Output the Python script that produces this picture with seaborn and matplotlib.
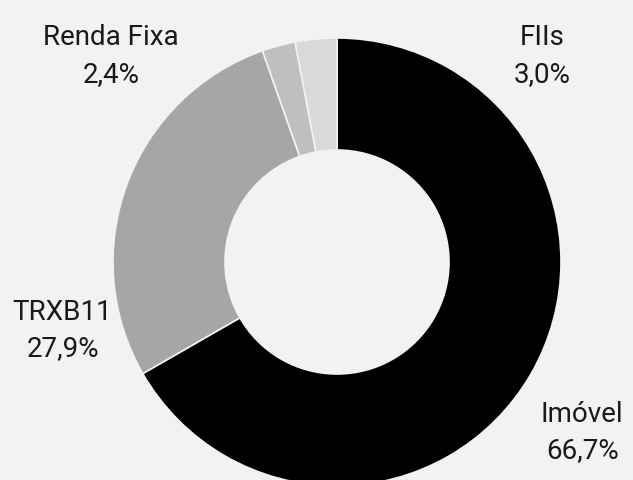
import matplotlib
matplotlib.use("Agg")
import matplotlib.pyplot as plt
import seaborn as sns

# ==============================
# Dados
# ==============================
categorias = ["Imóvel", "TRXB11", "Renda Fixa", "FIIs"]
valores = [66.7, 27.9, 2.4, 3.0]
rotulos = ["66,7%", "27,9%", "2,4%", "3,0%"]
cores = ["#000000", "#a6a6a6", "#bfbfbf", "#d9d9d9"]

# posição dos rótulos (em unidades do raio)
pos_rotulos = [(1.095, -0.76), (-1.225, -0.305), (-1.01, 0.92), (0.915, 0.92)]

# ==============================
# Gráfico
# ==============================
sns.set_theme(style="white")
plt.rcParams["font.family"] = ["Roboto", "DejaVu Sans"]

fig = plt.figure(figsize=(6.33, 4.8), dpi=100, facecolor="#f2f2f2")
ax = fig.add_axes([0, 0, 1, 1])
ax.set_facecolor("#f2f2f2")

ax.pie(valores, colors=sns.color_palette(cores), startangle=90, counterclock=False,
       radius=1.0, wedgeprops=dict(width=0.5, edgecolor="#f2f2f2", linewidth=1.2))

for cat, rot, (x, y) in zip(categorias, rotulos, pos_rotulos):
    ax.text(x, y, cat + "\n" + rot, ha="center", va="center", fontsize=20,
            color="#1a1a1a", linespacing=1.45)

ax.set_aspect("equal")
ax.set_xlim(-337 / 224, (633 - 337) / 224)
ax.set_ylim(-218 / 224, 262 / 224)
ax.axis("off")

plt.savefig("out.png", dpi=100, facecolor="#f2f2f2")
